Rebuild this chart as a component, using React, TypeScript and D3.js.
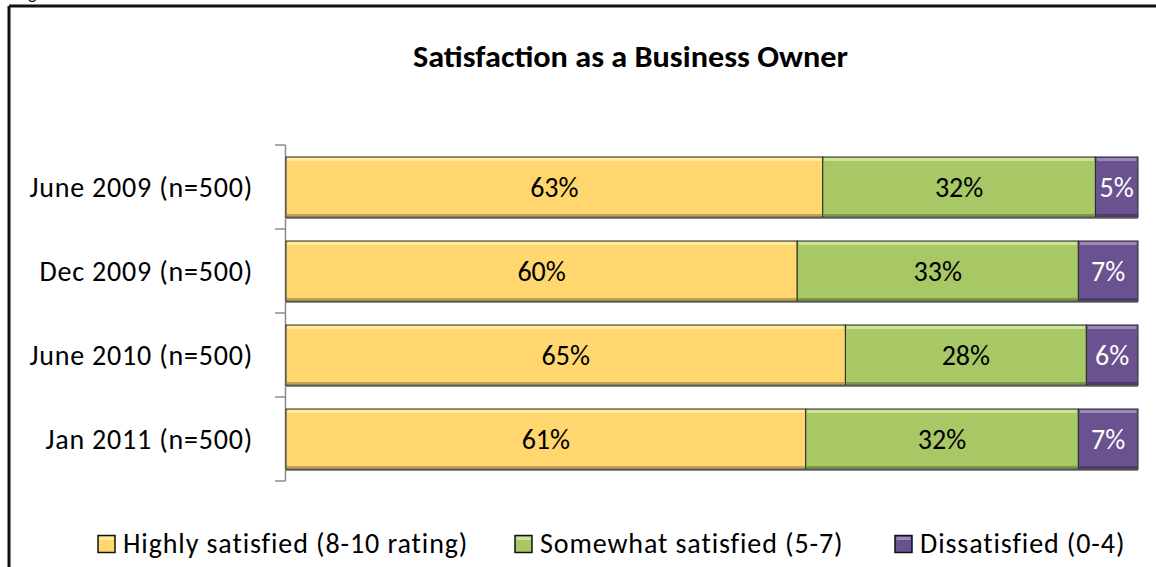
import React from "react";
import * as d3 from "d3";

const categories = ["June 2009 (n=500)", "Dec 2009 (n=500)", "June 2010 (n=500)", "Jan 2011 (n=500)"];
const highly = [63, 60, 65, 61];
const somewhat = [32, 33, 28, 32];
const dissatisfied = [5, 7, 6, 7];
const seriesNames = ["Highly satisfied (8-10 rating)", "Somewhat satisfied (5-7)", "Dissatisfied (0-4)"];
const seriesKeys = ["highly", "somewhat", "dissatisfied"];
const seriesColors = ["#FFD76E", "#A8C866", "#6A5190"];
const seriesHi = ["#FFEB9C", "#CDE39A", "#9C86BC"];
const labelColors = ["#000", "#000", "#fff"];
const title = "Satisfaction as a Business Owner";

const FONT = "Carlito, Lato, 'Open Sans', sans-serif";

export default function App() {
  const W = 1156, H = 567;
  const rows = categories.map((c, i) => ({
    cat: c,
    highly: highly[i],
    somewhat: somewhat[i],
    dissatisfied: dissatisfied[i],
  }));
  const stack = d3.stack<any>().keys(seriesKeys).offset(d3.stackOffsetExpand);
  const stacked = stack(rows);

  const x = d3.scaleLinear().domain([0, 1]).range([286, 1138]);
  const y = d3.scaleBand<string>().domain(categories).range([145, 481]).paddingInner(0.2857).paddingOuter(0.1428);
  const step = y.step();
  const bh = y.bandwidth();
  const tickYs = d3.range(categories.length + 1).map((i) => 145 + i * step);

  const legendX = [98, 515, 895];

  return (
    <svg width={W} height={H} style={{ position: "absolute", left: 0, top: 0, background: "#fff" }}>
      <rect x={0} y={0} width={W} height={H} fill="#fff" />
      {/* outer border (only top and left visible) */}
      <line x1={9} y1={6} x2={W} y2={6} stroke="#111" strokeWidth={3} />
      <line x1={9} y1={6} x2={9} y2={H} stroke="#111" strokeWidth={3} />
      <text x={28} y={-1} fontFamily={FONT} fontSize={18} fill="#000">g</text>

      <text x={413} y={67} textLength={435} lengthAdjust="spacingAndGlyphs" fontFamily={FONT} fontWeight="bold" fontSize={30} fill="#000">
        {title}
      </text>

      {/* axis */}
      <line x1={285.5} y1={145} x2={285.5} y2={481} stroke="#8c8c8c" strokeWidth={1.5} />
      {tickYs.map((t, i) => (
        <line key={i} x1={275} y1={t} x2={285.5} y2={t} stroke="#8c8c8c" strokeWidth={1.5} />
      ))}
      {categories.map((c) => (
        <text key={c} x={253} y={(y(c) as number) + bh / 2} dy="0.35em" textAnchor="end" fontFamily={FONT} fontSize={28} letterSpacing={0.8} fill="#000">
          {c}
        </text>
      ))}

      {/* bars */}
      {stacked.map((s, si) => (
        <g key={s.key}>
          {s.map((d, i) => {
            const x0 = x(d[0]);
            const x1 = x(d[1]);
            const yy = y(categories[i]) as number;
            const w = x1 - x0;
            const raw = [highly, somewhat, dissatisfied][si][i];
            return (
              <g key={i}>
                <rect x={x0} y={yy + 2} width={w} height={bh} fill="#555" opacity={0.7} />
                <rect x={x0} y={yy} width={w} height={bh} fill={seriesColors[si]} stroke="#2a2a2a" strokeWidth={1} />
                <rect x={x0 + 1.5} y={yy + 1} width={Math.max(0, w - 3)} height={3} fill={seriesHi[si]} />
                <rect x={x0 + 1} y={yy + bh - 3} width={Math.max(0, w - 2)} height={2} fill="#000" opacity={0.25} />
                <text x={(x0 + x1) / 2} y={yy + bh / 2} dy="0.35em" textAnchor="middle" fontFamily={FONT} fontSize={28} fill={labelColors[si]}>
                  {raw}%
                </text>
              </g>
            );
          })}
        </g>
      ))}

      {/* legend */}
      {seriesNames.map((n, i) => (
        <g key={n}>
          <rect x={legendX[i]} y={535.5} width={17} height={17} fill={seriesColors[i]} stroke="#111" strokeWidth={1.5} />
          <rect x={legendX[i] + 1.5} y={537} width={14} height={3} fill={seriesHi[i]} />
          <text x={legendX[i] + 25} y={553} fontFamily={FONT} fontSize={28} letterSpacing={0.9} fill="#000">
            {n}
          </text>
        </g>
      ))}
    </svg>
  );
}
